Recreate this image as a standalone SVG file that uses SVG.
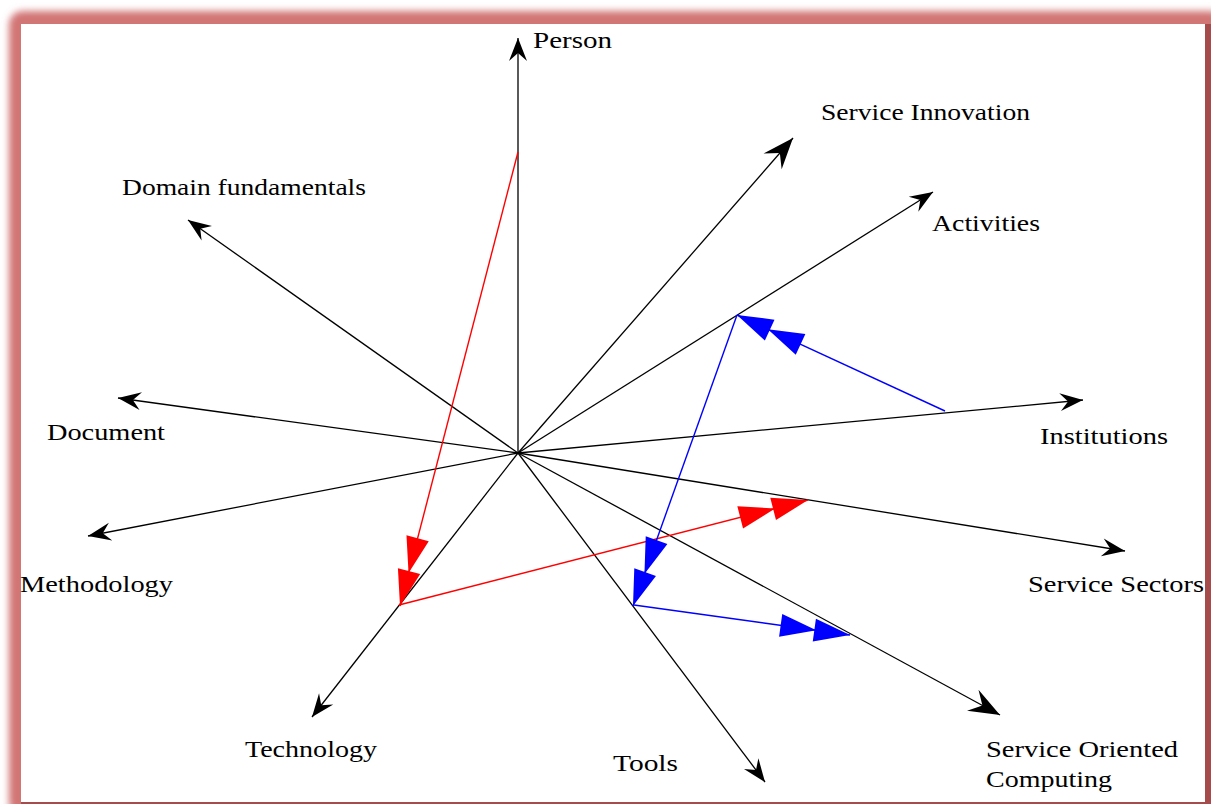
<svg xmlns="http://www.w3.org/2000/svg" width="1211" height="804" viewBox="0 0 1211 804">
<style>
.lbl{font-family:"Liberation Serif","DejaVu Serif",serif;font-size:24px;fill:#000}
.ax{stroke:#000;stroke-width:1.3;fill:none;marker-end:url(#ab)}
.axb{stroke:#000;stroke-width:1.3;fill:none;marker-end:url(#abL)}
.rd{stroke:#FF0000;stroke-width:1.4;fill:none;marker-end:url(#rr)}
.bl{stroke:#0000FF;stroke-width:1.4;fill:none;marker-end:url(#bb)}
</style>
<defs>
<filter id="glow" x="-5%" y="-5%" width="110%" height="110%"><feGaussianBlur stdDeviation="3.5"/></filter>
<marker id="ab" viewBox="-24 -11 26 22" refX="0" refY="0" markerWidth="26" markerHeight="22" markerUnits="userSpaceOnUse" orient="auto"><path d="M0,0 L-23,-9 L-15,0 L-23,9 Z" fill="#000"/></marker>
<marker id="abL" viewBox="-32 -14 34 28" refX="0" refY="0" markerWidth="34" markerHeight="28" markerUnits="userSpaceOnUse" orient="auto"><path d="M0,0 L-31,-12 L-20,0 L-31,12 Z" fill="#000"/></marker>
<marker id="rr" viewBox="-72 -13 74 26" refX="0" refY="0" markerWidth="74" markerHeight="26" markerUnits="userSpaceOnUse" orient="auto"><path d="M0,0 L-36,-11.5 L-36,11.5 Z M-34,0 L-70,-11.5 L-70,11.5 Z" fill="#FF0000"/></marker>
<marker id="bb" viewBox="-72 -13 74 26" refX="0" refY="0" markerWidth="74" markerHeight="26" markerUnits="userSpaceOnUse" orient="auto"><path d="M0,0 L-36,-11.5 L-36,11.5 Z M-34,0 L-70,-11.5 L-70,11.5 Z" fill="#0000FF"/></marker>
</defs>
<rect x="0" y="0" width="1211" height="804" fill="#fff"/>
<g id="frame">
<rect x="9" y="11" width="1215" height="805" rx="14" fill="#D27575" filter="url(#glow)"/>
<rect x="21" y="24" width="1184" height="778" fill="#fff"/>
<rect x="1205" y="24" width="6" height="780" fill="#A54B4B"/>
<rect x="21" y="802" width="1190" height="2" fill="#A54B4B"/>
</g>
<g id="connectors">
<line class="ax" x1="518" y1="453" x2="518" y2="38"/>
<line class="axb" x1="518" y1="453" x2="793" y2="138"/>
<line class="ax" x1="518" y1="453" x2="933" y2="192"/>
<line class="ax" x1="518" y1="453" x2="1083" y2="400"/>
<line class="ax" x1="518" y1="453" x2="1125" y2="551"/>
<line class="axb" x1="518" y1="453" x2="1000" y2="715"/>
<line class="ax" x1="518" y1="453" x2="765" y2="782"/>
<line class="ax" x1="518" y1="453" x2="312" y2="717"/>
<line class="ax" x1="518" y1="453" x2="88" y2="536"/>
<line class="ax" x1="518" y1="453" x2="118" y2="398"/>
<line class="ax" x1="518" y1="453" x2="188" y2="220"/>
<line class="rd" x1="518" y1="152" x2="400" y2="606"/>
<line class="rd" x1="399" y1="605" x2="808" y2="500"/>
<line class="bl" x1="945" y1="411" x2="737" y2="315"/>
<line class="bl" x1="737" y1="315" x2="633" y2="606"/>
<line class="bl" x1="634" y1="605" x2="850" y2="635"/>
</g>
<g id="n-person"><text class="lbl" x="533" y="48" textLength="79" lengthAdjust="spacingAndGlyphs">Person</text></g>
<g id="n-service-innovation"><text class="lbl" x="821" y="120" textLength="209" lengthAdjust="spacingAndGlyphs">Service Innovation</text></g>
<g id="n-activities"><text class="lbl" x="932" y="231" textLength="108" lengthAdjust="spacingAndGlyphs">Activities</text></g>
<g id="n-institutions"><text class="lbl" x="1040" y="444" textLength="128" lengthAdjust="spacingAndGlyphs">Institutions</text></g>
<g id="n-service-sectors"><text class="lbl" x="1028" y="592" textLength="176" lengthAdjust="spacingAndGlyphs">Service Sectors</text></g>
<g id="n-soc"><text class="lbl" x="986" y="757" textLength="192" lengthAdjust="spacingAndGlyphs">Service Oriented</text><text class="lbl" x="986" y="787" textLength="126" lengthAdjust="spacingAndGlyphs">Computing</text></g>
<g id="n-tools"><text class="lbl" x="613" y="771" textLength="65" lengthAdjust="spacingAndGlyphs">Tools</text></g>
<g id="n-technology"><text class="lbl" x="245" y="757" textLength="132" lengthAdjust="spacingAndGlyphs">Technology</text></g>
<g id="n-methodology"><text class="lbl" x="20" y="592" textLength="153" lengthAdjust="spacingAndGlyphs">Methodology</text></g>
<g id="n-document"><text class="lbl" x="47" y="440" textLength="118" lengthAdjust="spacingAndGlyphs">Document</text></g>
<g id="n-domain"><text class="lbl" x="122" y="195" textLength="244" lengthAdjust="spacingAndGlyphs">Domain fundamentals</text></g>
</svg>
